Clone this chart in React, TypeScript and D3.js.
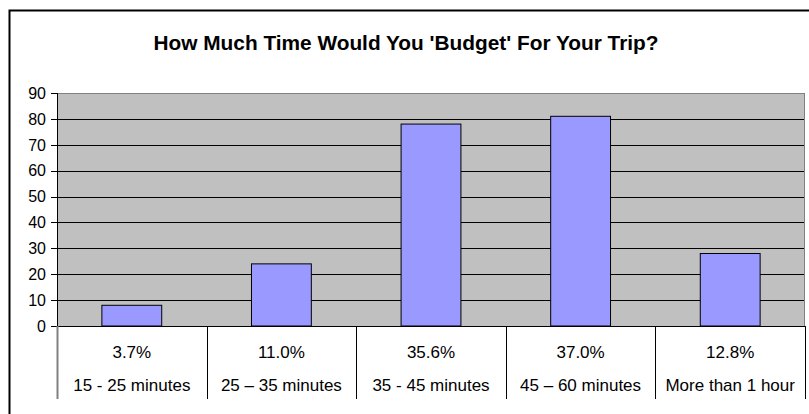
import React from "react";
import * as d3 from "d3";

const categories = ["15 - 25 minutes", "25 \u2013 35 minutes", "35 - 45 minutes", "45 \u2013 60 minutes", "More than 1 hour"];
const percents = ["3.7%", "11.0%", "35.6%", "37.0%", "12.8%"];
const counts = [8, 24, 78, 81, 28];
const yTicks = [0, 10, 20, 30, 40, 50, 60, 70, 80, 90];
const title = "How Much Time Would You 'Budget' For Your Trip?";

const W = 809, H = 414;
const plot = { left: 57, right: 805, top: 93, bottom: 326 };

export default function App() {
  const x = d3.scaleBand<string>().domain(categories).range([plot.left, plot.right]).paddingInner(0).paddingOuter(0);
  const y = d3.scaleLinear().domain([0, 90]).range([plot.bottom, plot.top]);
  const bw = x.bandwidth() * 0.4;
  const font = "Arial, 'Liberation Sans', sans-serif";
  return (
    <svg width={W} height={H} style={{ position: "absolute", left: 0, top: 0, background: "#fff" }} fontFamily={font}>
      <rect x={9.5} y={10.5} width={W + 10} height={H + 10} fill="#fff" stroke="#000" strokeWidth={2} />
      <text x={406} y={50} textAnchor="middle" fontWeight="bold" fontSize={20} textLength={505} lengthAdjust="spacingAndGlyphs">{title}</text>
      <rect x={plot.left} y={plot.top} width={plot.right - plot.left} height={plot.bottom - plot.top} fill="#C0C0C0" />
      {yTicks.filter(t => t > 0 && t < 90).map(t => (
        <line key={"g" + t} x1={plot.left} x2={plot.right} y1={Math.round(y(t)) + 0.5} y2={Math.round(y(t)) + 0.5} stroke="#000" strokeWidth={1} />
      ))}
      <rect x={plot.left + 0.5} y={plot.top + 0.5} width={plot.right - plot.left - 1} height={plot.bottom - plot.top} fill="none" stroke="#808080" strokeWidth={1} />
      {counts.map((v, i) => (
        <rect key={"b" + i} x={(x(categories[i]) as number) + (x.bandwidth() - bw) / 2} y={y(v)} width={bw} height={y(0) - y(v)} fill="#9999FF" stroke="#000" strokeWidth={1} />
      ))}
      <line x1={plot.left - 6} x2={plot.right} y1={plot.bottom + 0.5} y2={plot.bottom + 0.5} stroke="#000" />
      <line x1={plot.left + 0.5} x2={plot.left + 0.5} y1={plot.top} y2={plot.bottom} stroke="#000" />
      {yTicks.map(t => (
        <g key={"t" + t}>
          <line x1={plot.left - 6} x2={plot.left} y1={Math.round(y(t)) + 0.5} y2={Math.round(y(t)) + 0.5} stroke="#000" />
          <text x={plot.left - 11} y={y(t)} dy="0.36em" textAnchor="end" fontSize={16}>{t}</text>
        </g>
      ))}
      {categories.map((c, i) => (
        <line key={"s" + i} x1={Math.round(x(c) as number) + 0.5} x2={Math.round(x(c) as number) + 0.5} y1={plot.bottom} y2={399} stroke={i === 0 ? "#808080" : "#000"} strokeWidth={i === 0 ? 2 : 1} />
      ))}
      <line x1={plot.right + 0.5} x2={plot.right + 0.5} y1={plot.bottom} y2={399} stroke="#000" />
      {categories.map((c, i) => (
        <g key={"c" + i}>
          <text x={(x(c) as number) + x.bandwidth() / 2} y={358} textAnchor="middle" fontSize={17}>{percents[i]}</text>
          <text x={(x(c) as number) + x.bandwidth() / 2} y={391} textAnchor="middle" fontSize={17}>{c}</text>
        </g>
      ))}
    </svg>
  );
}
